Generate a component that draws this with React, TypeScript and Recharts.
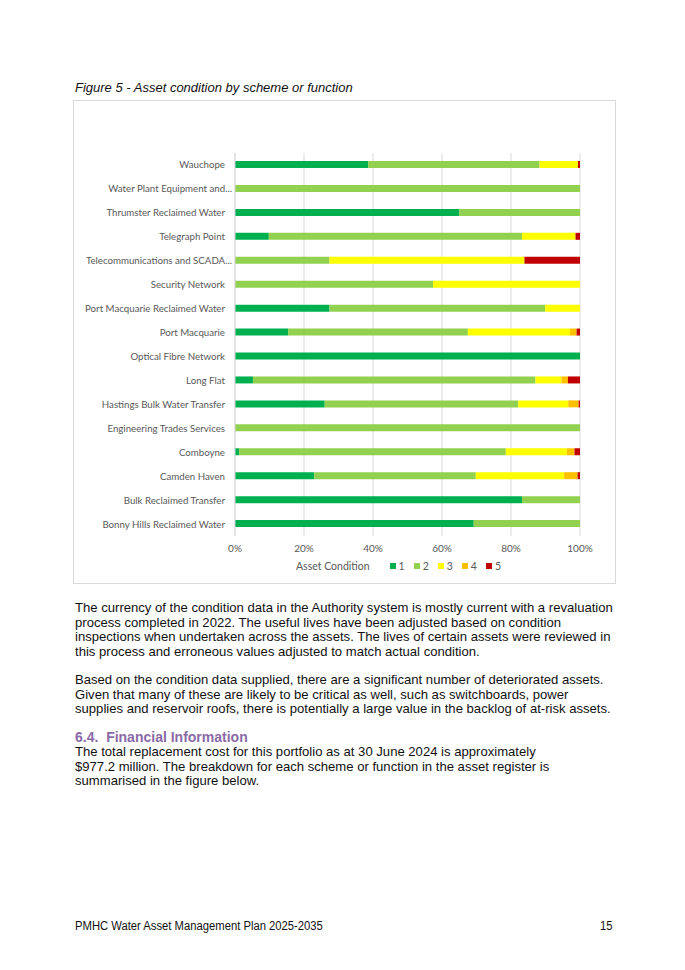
import React from "react";
import { BarChart, Bar, XAxis, YAxis, CartesianGrid } from "recharts";

// Categories, top to bottom
const schemes = [
  "Wauchope",
  "Water Plant Equipment and...",
  "Thrumster Reclaimed Water",
  "Telegraph Point",
  "Telecommunications and SCADA...",
  "Security Network",
  "Port Macquarie Reclaimed Water",
  "Port Macquarie",
  "Optical Fibre Network",
  "Long Flat",
  "Hastings Bulk Water Transfer",
  "Engineering Trades Services",
  "Comboyne",
  "Camden Haven",
  "Bulk Reclaimed Transfer",
  "Bonny Hills Reclaimed Water",
];

// Share of assets (%) per condition grade, same order as schemes
const cond1 = [38.6, 0, 65.0, 9.8, 0, 0, 27.4, 15.4, 100, 5.2, 26.0, 0, 1.2, 23.0, 83.2, 69.2];
const cond2 = [49.7, 100, 35.0, 73.4, 27.4, 57.4, 62.5, 52.1, 0, 81.9, 56.1, 100, 77.3, 46.8, 16.8, 30.8];
const cond3 = [11.1, 0, 0, 15.5, 56.5, 42.6, 10.1, 29.6, 0, 7.5, 14.5, 0, 17.7, 25.6, 0, 0];
const cond4 = [0, 0, 0, 0, 0, 0, 0, 1.9, 0, 1.9, 3.0, 0, 2.2, 3.9, 0, 0];
const cond5 = [0.6, 0, 0, 1.3, 16.1, 0, 0, 1.0, 0, 3.5, 0.4, 0, 1.6, 0.7, 0, 0];

const grades = ["1", "2", "3", "4", "5"];
const gradeColors = ["#00B050", "#92D050", "#FFFF00", "#FFC000", "#C00000"];
const xTicks = [0, 0.2, 0.4, 0.6, 0.8, 1];

const data = schemes.map((name, i) => ({
  name,
  c1: cond1[i],
  c2: cond2[i],
  c3: cond3[i],
  c4: cond4[i],
  c5: cond5[i],
}));

const labelFont = "Lato, 'Liberation Sans', sans-serif";
const bodyFont = "'Liberation Sans', Arial, sans-serif";

const para1 = [
  "The currency of the condition data in the Authority system is mostly current with a revaluation",
  "process completed in 2022. The useful lives have been adjusted based on condition",
  "inspections when undertaken across the assets. The lives of certain assets were reviewed in",
  "this process and erroneous values adjusted to match actual condition.",
];
const para2 = [
  "Based on the condition data supplied, there are a significant number of deteriorated assets.",
  "Given that many of these are likely to be critical as well, such as switchboards, power",
  "supplies and reservoir roofs, there is potentially a large value in the backlog of at-risk assets.",
];
const para3 = [
  "The total replacement cost for this portfolio as at 30 June 2024 is approximately",
  "$977.2 million. The breakdown for each scheme or function in the asset register is",
  "summarised in the figure below.",
];

// single-line category label (no wrapping); truncated ones sit a bit further right like Excel
const SchemeTick = (props: any) => {
  const { x, y, payload } = props;
  const truncated = String(payload.value).endsWith("...");
  return (
    <text
      x={x + (truncated ? 7 : 0)}
      y={y}
      dy={3.5}
      textAnchor="end"
      fontSize={9.7}
      fill="#595959"
      fontFamily={labelFont}
    >
      {payload.value}
    </text>
  );
};

const Lines = ({ lines, top }: { lines: string[]; top: number }) => (
  <div
    style={{
      position: "absolute",
      left: 75,
      top,
      fontFamily: bodyFont,
      fontSize: 13.1,
      lineHeight: "14.5px",
      color: "#111",
      whiteSpace: "nowrap",
    }}
  >
    {lines.map((l, i) => (
      <div key={i}>{l}</div>
    ))}
  </div>
);

const footerStyle: React.CSSProperties = {
  position: "absolute",
  top: 919,
  fontFamily: bodyFont,
  fontSize: 12.5,
  color: "#111",
  whiteSpace: "nowrap",
  transform: "scaleX(0.9)",
  transformOrigin: "left",
};

export default function App() {
  return (
    <div
      style={{
        position: "absolute",
        left: 0,
        top: 0,
        width: 685,
        height: 970,
        background: "#fff",
        overflow: "hidden",
      }}
    >
      <div
        style={{
          position: "absolute",
          left: 75,
          top: 80,
          fontFamily: bodyFont,
          fontStyle: "italic",
          fontSize: 13,
          color: "#111",
          whiteSpace: "nowrap",
        }}
      >
        Figure 5 - Asset condition by scheme or function
      </div>

      <div
        style={{
          position: "absolute",
          left: 73,
          top: 100,
          width: 541,
          height: 482,
          border: "1px solid #d9d9d9",
        }}
      >
        <BarChart
          width={541}
          height={482}
          layout="vertical"
          data={data}
          stackOffset="expand"
          barSize={7}
          margin={{ top: 52, right: 35, left: 0, bottom: 0 }}
        >
          <CartesianGrid horizontal={false} stroke="#d9d9d9" />
          <XAxis
            type="number"
            domain={[0, 1]}
            ticks={xTicks}
            tickFormatter={(v: number) => `${Math.round(v * 100)}%`}
            axisLine={false}
            tickLine={false}
            tickSize={0}
            tickMargin={9}
            height={47}
            tick={{ fontSize: 10, fill: "#595959", fontFamily: labelFont }}
          />
          <YAxis
            type="category"
            dataKey="name"
            width={161}
            interval={0}
            axisLine={{ stroke: "#d9d9d9" }}
            tickLine={false}
            tickSize={0}
            tickMargin={10}
            tick={<SchemeTick />}
          />
          {grades.map((g, i) => (
            <Bar
              key={g}
              dataKey={`c${g}`}
              name={g}
              stackId="a"
              fill={gradeColors[i]}
              isAnimationActive={false}
            />
          ))}
        </BarChart>

        <div
          style={{
            position: "absolute",
            left: 222,
            top: 459,
            display: "flex",
            alignItems: "center",
            fontFamily: labelFont,
            fontSize: 10.5,
            color: "#595959",
            whiteSpace: "nowrap",
          }}
        >
          <span style={{ marginRight: 20 }}>Asset Condition</span>
          {grades.map((g, i) => (
            <span
              key={g}
              style={{ display: "flex", alignItems: "center", marginRight: 9 }}
            >
              <span
                style={{
                  display: "inline-block",
                  width: 6,
                  height: 6,
                  background: gradeColors[i],
                  marginRight: 3,
                }}
              />
              {g}
            </span>
          ))}
        </div>
      </div>

      <Lines lines={para1} top={601} />
      <Lines lines={para2} top={673} />
      <div
        style={{
          position: "absolute",
          left: 75,
          top: 729,
          fontFamily: bodyFont,
          fontWeight: "bold",
          fontSize: 14,
          color: "#8A6AA6",
          whiteSpace: "nowrap",
        }}
      >
        6.4.&nbsp;&nbsp;Financial Information
      </div>
      <Lines lines={para3} top={745} />

      <div style={{ ...footerStyle, left: 75 }}>
        PMHC Water Asset Management Plan 2025-2035
      </div>
      <div style={{ ...footerStyle, left: 600 }}>15</div>
    </div>
  );
}
